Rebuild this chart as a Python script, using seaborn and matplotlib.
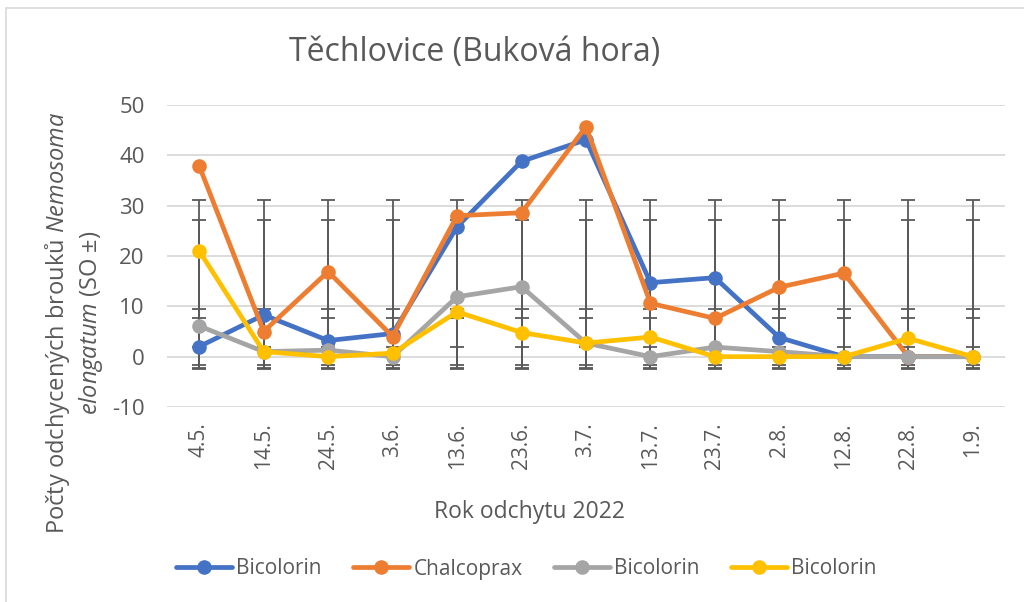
"""
Těchlovice (Buková hora) - line chart of captured beetles with SD error bars
"""

import matplotlib
matplotlib.use('Agg')
import matplotlib.pyplot as plt
import seaborn as sns
import numpy as np
import pandas as pd
from matplotlib.lines import Line2D

dates = ['4.5.', '14.5.', '24.5.', '3.6.', '13.6.', '23.6.', '3.7.',
         '13.7.', '23.7.', '2.8.', '12.8.', '22.8.', '1.9.']
series_names = ['Bicolorin', 'Chalcoprax', 'Bicolorin', 'Bicolorin']
blue = [2.0, 8.3, 3.2, 4.6, 25.8, 38.8, 43.1, 14.7, 15.7, 3.8, 0.0, 0.0, 0.0]
orange = [37.9, 5.0, 16.9, 4.0, 28.0, 28.6, 45.7, 10.6, 7.6, 13.8, 16.6, 0.0, 0.0]
gray = [6.1, 1.0, 1.3, 0.0, 11.9, 13.9, 2.7, 0.0, 1.9, 1.0, 0.0, 0.0, 0.0]
yellow = [21.0, 1.0, 0.0, 0.7, 8.9, 4.8, 2.7, 3.9, 0.0, 0.0, 0.0, 3.65, 0.0]
colors = ['#4472C4', '#ED7D31', '#A5A5A5', '#FFC000']

TEXT = '#595959'
FONT = 'Open Sans'

sns.set_theme(style='white')
plt.rcParams['font.family'] = [FONT, 'DejaVu Sans']
plt.rcParams['axes.unicode_minus'] = False
plt.rcParams['mathtext.fontset'] = 'custom'
plt.rcParams['mathtext.rm'] = FONT
plt.rcParams['mathtext.it'] = FONT + ':italic'

fig = plt.figure(figsize=(10.24, 6.02), dpi=100)
ax = fig.add_axes([167 / 1024, 1 - 407 / 602, 838 / 1024, 302 / 602])

x = np.arange(len(dates))
all_series = [blue, orange, gray, yellow]

# Excel style "standard deviation" error bars: mean of series +- SD, drawn at every point
for vals in all_series:
    v = np.array(vals)
    m, sd = v.mean(), v.std(ddof=1)
    ax.errorbar(x, np.full(len(x), m), yerr=sd, fmt='none', ecolor='#595959',
                elinewidth=1.3, capsize=5, capthick=1.3, zorder=1.5)

for i, vals in enumerate(all_series):
    df = pd.DataFrame({'x': x, 'y': vals})
    sns.lineplot(data=df, x='x', y='y', ax=ax, color=colors[i], linewidth=3.4,
                 marker='o', markersize=10.5, markeredgewidth=0, zorder=3 + i)

ax.set_xlim(-0.5, len(dates) - 0.5)
ax.set_ylim(-10, 50)
ax.set_yticks(range(-10, 51, 10))
ax.set_xticks(x)
ax.set_xticklabels(dates, rotation=90, ha='center', va='top')
ax.grid(axis='y', color='#D9D9D9', linewidth=1.3)
ax.set_axisbelow(True)
for s in ax.spines.values():
    s.set_visible(False)
ax.tick_params(axis='y', length=0, pad=16, labelsize=16, labelcolor=TEXT)
ax.tick_params(axis='x', length=0, pad=11, labelsize=15, labelcolor=TEXT)
ax.set_xlabel('')
ax.set_ylabel('')

fig.text(530 / 1024, 1 - 512 / 602, 'Rok odchytu 2022', ha='center', va='center',
         fontsize=16.5, color=TEXT)
fig.text(475 / 1024, 1 - 52 / 602, 'Těchlovice (Buková hora)', ha='center', va='center',
         fontsize=23, color=TEXT)
fig.text(74 / 1024, 1 - 323 / 602,
         'Počty odchycených brouků $\\it{Nemosoma}$\n$\\it{elongatum}$ (SO ±)',
         rotation=90, ha='center', va='center', ma='center', fontsize=17,
         color=TEXT, linespacing=1.25)

handles = [Line2D([0], [0], color=c, linewidth=3.4, marker='o', markersize=10.5,
                  markeredgewidth=0) for c in colors]
fig.legend(handles, series_names, loc='center left', bbox_to_anchor=(176 / 1024, 1 - 569 / 602),
           ncol=4, frameon=False, fontsize=15, labelcolor=TEXT, handlelength=2.7,
           handletextpad=0.2, columnspacing=1.5, borderpad=0, borderaxespad=0)

# chart border (top and left edges visible in reference)
fig.add_artist(Line2D([6 / 1024, 6 / 1024], [0, 1 - 8 / 602], transform=fig.transFigure,
                      color='#D9D9D9', linewidth=1.2))
fig.add_artist(Line2D([6 / 1024, 1], [1 - 8 / 602, 1 - 8 / 602], transform=fig.transFigure,
                      color='#D9D9D9', linewidth=1.2))

fig.savefig('out.png', dpi=100)
plt.close(fig)
